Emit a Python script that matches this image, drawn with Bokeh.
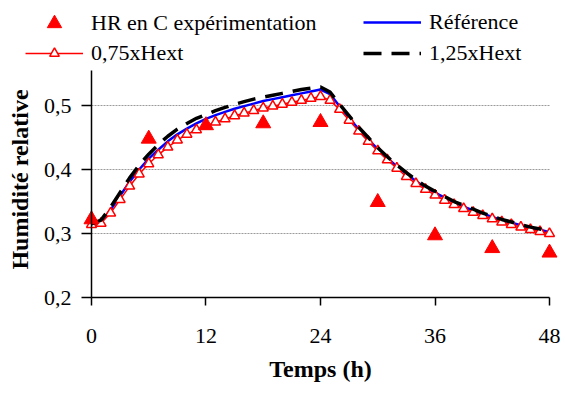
from math import pi
from bokeh.plotting import figure
from bokeh.models import Range1d, FixedTicker, Legend, LegendItem, Label
from bokeh.embed import file_html
from bokeh.resources import INLINE

# ---- data ----
hours = list(range(49))
exp_hours = [0, 6, 12, 18, 24, 30, 36, 42, 48]
hr_exp = [0.322, 0.448, 0.469, 0.472, 0.474, 0.349, 0.297, 0.277, 0.270]

hr_ref = [0.315, 0.318, 0.337, 0.359, 0.381, 0.400, 0.417, 0.431, 0.444, 0.455,
          0.464, 0.472, 0.479, 0.485, 0.490, 0.495, 0.499, 0.503, 0.507, 0.510,
          0.513, 0.516, 0.519, 0.522, 0.525, 0.518, 0.499, 0.481, 0.463, 0.447,
          0.432, 0.418, 0.405, 0.393, 0.382, 0.372, 0.364, 0.356, 0.349, 0.342,
          0.336, 0.331, 0.326, 0.321, 0.317, 0.313, 0.309, 0.306, 0.302]

hr_075 = [0.314, 0.316, 0.332, 0.353, 0.374, 0.393, 0.409, 0.423, 0.435, 0.446,
          0.455, 0.462, 0.468, 0.474, 0.479, 0.484, 0.488, 0.492, 0.496, 0.499,
          0.502, 0.505, 0.508, 0.511, 0.514, 0.508, 0.494, 0.477, 0.460, 0.444,
          0.429, 0.415, 0.402, 0.389, 0.378, 0.369, 0.360, 0.352, 0.345, 0.339,
          0.333, 0.328, 0.323, 0.318, 0.314, 0.310, 0.306, 0.303, 0.300]

hr_125 = [0.315, 0.321, 0.341, 0.364, 0.387, 0.407, 0.424, 0.439, 0.452, 0.463,
          0.472, 0.480, 0.486, 0.492, 0.497, 0.502, 0.506, 0.510, 0.513, 0.516,
          0.519, 0.522, 0.525, 0.527, 0.529, 0.521, 0.502, 0.484, 0.466, 0.450,
          0.434, 0.420, 0.407, 0.395, 0.384, 0.374, 0.366, 0.358, 0.350, 0.344,
          0.338, 0.332, 0.327, 0.322, 0.318, 0.314, 0.310, 0.307, 0.303]

x_ticks = [0, 12, 24, 36, 48]
y_ticks = [0.2, 0.3, 0.4, 0.5]
y_tick_labels = ["0,2", "0,3", "0,4", "0,5"]
y_axis_min, y_axis_max = 0.2, 0.555
grid_levels = [0.3, 0.4, 0.5]

series_labels = ["HR en C expérimentation", "Référence", "0,75xHext", "1,25xHext"]
x_title = "Temps (h)"
y_title = "Humidité relative"

FONT = "Liberation Serif"

# the frame covers the whole canvas; the axes are pinned at x=0 and y=0.2
p = figure(width=564, height=392, output_backend="svg", toolbar_location=None,
           x_range=Range1d(-9.537, 49.572), y_range=Range1d(0.0516, 0.6641),
           min_border_left=0, min_border_right=0, min_border_top=0,
           min_border_bottom=0)
p.outline_line_color = None
p.xgrid.visible = False
p.ygrid.visible = False
p.background_fill_color = "white"
p.border_fill_color = "white"

x0, x1 = min(hours), max(hours)

# horizontal dotted grid lines limited to the time span
p.segment(x0=[x0] * len(grid_levels), x1=[x1] * len(grid_levels),
          y0=grid_levels, y1=grid_levels, line_color="#9a9a9a",
          line_width=1, line_dash="2 1")

# x axis
xa = p.xaxis[0]
xa.fixed_location = y_axis_min
xa.ticker = FixedTicker(ticks=x_ticks)
xa.bounds = (x0, x1)
xa.axis_line_width = 1.5
xa.axis_line_color = "black"
xa.major_tick_out = 8
xa.major_tick_in = 0
xa.major_tick_line_width = 1.5
xa.minor_tick_out = 0
xa.minor_tick_in = 0
xa.major_label_text_font = FONT
xa.major_label_text_font_size = "22px"
xa.major_label_text_color = "black"
xa.major_label_standoff = 23
xa.axis_label = x_title
xa.axis_label_text_font = FONT
xa.axis_label_text_font_style = "bold"
xa.axis_label_text_font_size = "24px"
xa.axis_label_text_color = "black"
xa.axis_label_standoff = 10

# y axis
ya = p.yaxis[0]
ya.fixed_location = x0
ya.ticker = FixedTicker(ticks=y_ticks)
ya.major_label_overrides = {t: s for t, s in zip(y_ticks, y_tick_labels)}
ya.bounds = (y_axis_min, y_axis_max)
ya.axis_line_width = 1.5
ya.axis_line_color = "black"
ya.major_tick_out = 10
ya.major_tick_in = 0
ya.major_tick_line_width = 1.5
ya.minor_tick_out = 0
ya.minor_tick_in = 0
ya.major_label_text_font = FONT
ya.major_label_text_font_size = "22px"
ya.major_label_text_color = "black"
ya.major_label_standoff = 10

# series
r_ref = p.line(hours, hr_ref, line_color="#0000FF", line_width=2.5)
r_075_line = p.line(hours, hr_075, line_color="#FF0000", line_width=1.5)
r_075_pts = p.scatter(hours, hr_075, marker="triangle", size=10,
                      fill_color="white", line_color="#FF0000", line_width=1.5)
r_125 = p.line(hours, hr_125, line_color="black", line_width=3.5, line_dash="18 10")
r_exp = p.scatter(exp_hours, hr_exp, marker="triangle", size=15,
                  fill_color="#FF0000", line_color="#FF0000")

# legends (one per entry, placed like the reference); offsets from frame bottom-left
def make_legend(label, renderers, loc, gh):
    lg = Legend(items=[LegendItem(label=label, renderers=renderers)],
                location=loc, orientation="vertical",
                glyph_width=58, glyph_height=gh, label_height=gh,
                label_standoff=8, padding=0, margin=0, spacing=0,
                border_line_color=None, background_fill_alpha=0,
                label_text_font=FONT, label_text_font_size="22px",
                label_text_color="black")
    p.add_layout(lg, "center")

make_legend(series_labels[0], [r_exp], (25, 351), 36)
make_legend(series_labels[1], [r_ref], (363, 357), 24)
make_legend(series_labels[2], [r_075_line, r_075_pts], (25, 326), 24)
make_legend(series_labels[3], [r_125], (363, 326), 24)

# y axis title
p.add_layout(Label(x=19, y=213, x_units="screen", y_units="screen",
                   text=y_title, angle=pi / 2, text_align="center",
                   text_baseline="middle", text_font=FONT,
                   text_font_style="bold", text_font_size="24px",
                   text_color="black"))

open("out.html", "w").write(file_html(p, INLINE))
